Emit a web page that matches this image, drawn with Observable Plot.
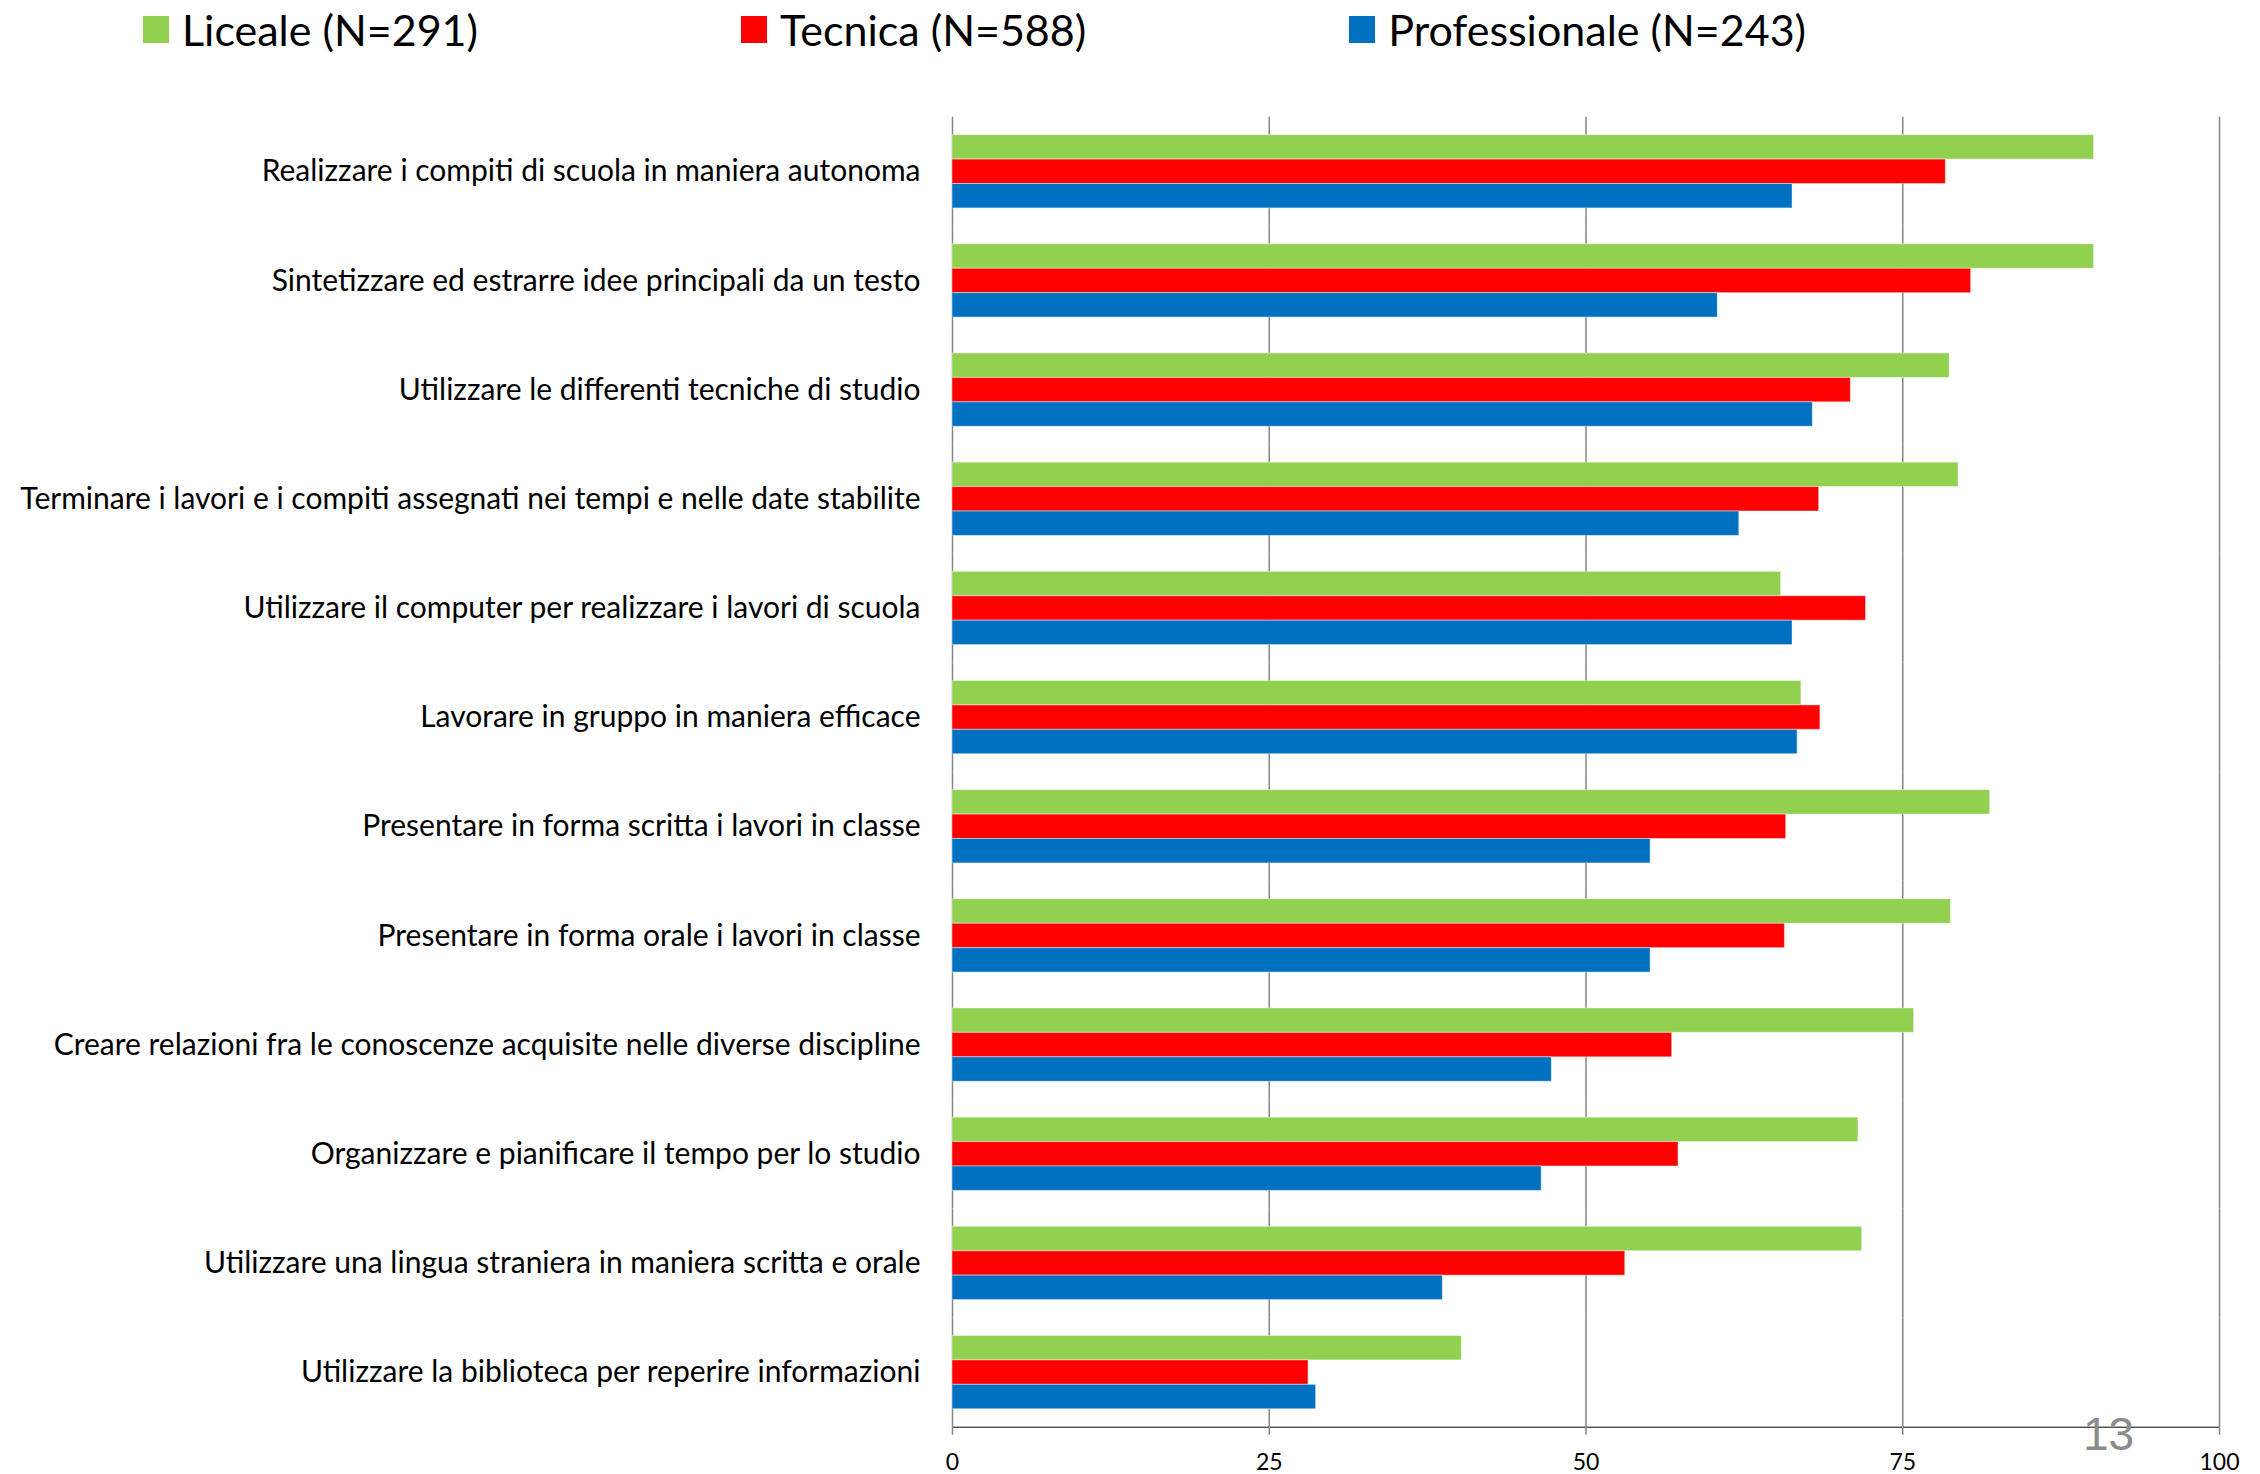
<!DOCTYPE html>
<html>
<head>
<meta charset="utf-8">
<script src="https://cdn.jsdelivr.net/npm/d3@7"></script>
<script src="https://cdn.jsdelivr.net/npm/@observablehq/plot@0.6"></script>
<style>
  html, body { margin: 0; padding: 0; background: #fff; }
  #page { position: relative; width: 2260px; height: 1474px; overflow: hidden; font-family: Lato, sans-serif; }
  #legend { height: 66px; display: flex; align-items: center; padding-left: 143px; column-gap: 263px; box-sizing: border-box; transform: translateY(-4px); }
  .item { display: flex; align-items: center; column-gap: 13px; }
  .swatch { width: 26px; height: 27px; }
  .label { font-size: 43px; color: #000; line-height: 1; }
  #slide { position: absolute; left: 2083px; top: 1411px; font-family: "Liberation Sans", Arial, sans-serif; font-size: 46px; line-height: 46px; color: #8c8c8c; }
  svg g[aria-label^="x-axis"] line, svg g[aria-label^="x-axis"] path { stroke: #868686; stroke-opacity: 1; stroke-width: 1.5px; }
  svg g[aria-label^="x-axis"] text { font-size: 23px; fill: #000; }
  svg g[aria-label^="fy-axis"] text { font-size: 30px; fill: #000; }
</style>
</head>
<body>
<div id="page">
  <div id="legend"></div>
  <div id="chart"></div>
  <div id="slide">13</div>
</div>
<script>
const categories = [
  "Realizzare i compiti di scuola in maniera autonoma",
  "Sintetizzare ed estrarre idee principali da un testo",
  "Utilizzare le differenti tecniche di studio",
  "Terminare i lavori e i compiti assegnati nei tempi e nelle date stabilite",
  "Utilizzare il computer per realizzare i lavori di scuola",
  "Lavorare in gruppo in maniera efficace",
  "Presentare in forma scritta i lavori in classe",
  "Presentare in forma orale i lavori in classe",
  "Creare relazioni fra le conoscenze acquisite nelle diverse discipline",
  "Organizzare e pianificare il tempo per lo studio",
  "Utilizzare una lingua straniera in maniera scritta e orale",
  "Utilizzare la biblioteca per reperire informazioni"
];
const series = ["Liceale (N=291)", "Tecnica (N=588)", "Professionale (N=243)"];
const colors = ["#92D050", "#FF0000", "#0070C0"];
const liceale =       [90.1, 90.1, 78.7, 79.4, 65.4, 67.0, 81.9, 78.8, 75.9, 71.5, 71.8, 40.2];
const tecnica =       [78.4, 80.4, 70.9, 68.4, 72.1, 68.5, 65.8, 65.7, 56.8, 57.3, 53.1, 28.1];
const professionale = [66.3, 60.4, 67.9, 62.1, 66.3, 66.7, 55.1, 55.1, 47.3, 46.5, 38.7, 28.7];
const xTicks = [0, 25, 50, 75, 100];

const valuesBySeries = [liceale, tecnica, professionale];
const table = [];
categories.forEach((c, i) => {
  series.forEach((s, j) => table.push({category: c, series: s, value: valuesBySeries[j][i]}));
});

// legend
const legend = document.getElementById("legend");
series.forEach((s, j) => {
  const item = document.createElement("div");
  item.className = "item";
  const sw = document.createElement("div");
  sw.className = "swatch";
  sw.style.background = colors[j];
  const lb = document.createElement("div");
  lb.className = "label";
  lb.textContent = s;
  item.appendChild(sw);
  item.appendChild(lb);
  legend.appendChild(item);
});

const chart = Plot.plot({
  width: 2260,
  height: 1408,
  marginTop: 50.7,
  marginBottom: 47.3,
  marginLeft: 952,
  marginRight: 41,
  style: {fontFamily: "Lato, sans-serif", fontSize: "30px", color: "#000", background: "#fff"},
  x: {domain: [0, 100], ticks: xTicks, tickSize: 8, tickPadding: 18, label: null, line: true, axis: "bottom"},
  y: {domain: series, axis: null, paddingInner: 0, paddingOuter: 0.735, round: false},
  fy: {domain: categories, padding: 0, round: false, axis: "left", label: null, tickSize: 0, tickPadding: 32},
  color: {domain: series, range: colors},
  marks: [
    Plot.ruleX(xTicks, {stroke: "#868686", strokeWidth: 1.5}),
    Plot.barX(table, {x: "value", y: "series", fy: "category", fill: "series", stroke: "#ffffff", strokeOpacity: 0.45, strokeWidth: 1})
  ]
});
document.getElementById("chart").appendChild(chart);
</script>
</body>
</html>
